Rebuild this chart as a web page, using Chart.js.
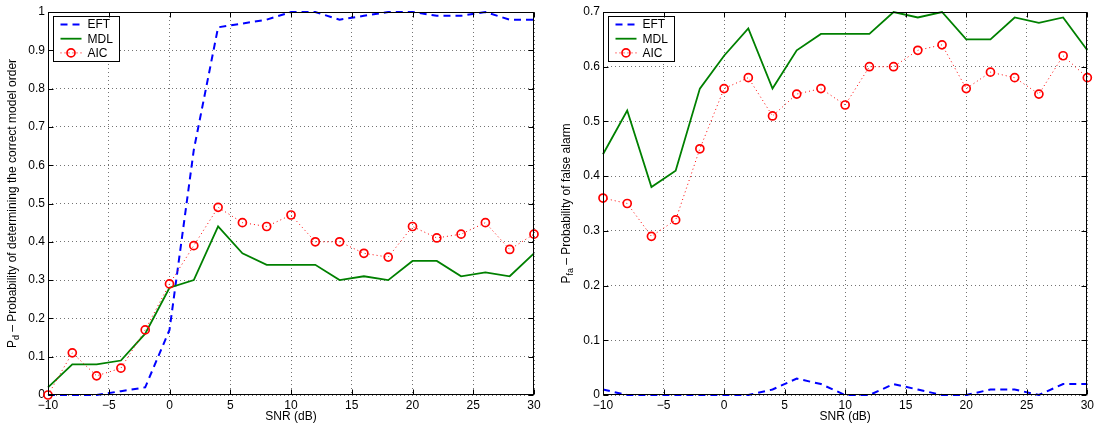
<!DOCTYPE html>
<html>
<head>
<meta charset="utf-8">
<script src="https://cdn.jsdelivr.net/npm/chart.js@4.4.0/dist/chart.umd.min.js"></script>
<style>
  html, body { margin: 0; padding: 0; background: #fff; }
  #wrap { position: relative; width: 1097px; height: 428px; }
  canvas { position: absolute; top: 0; }
</style>
</head>
<body>
<div id="wrap">
  <canvas id="pdChart" width="548" height="428" style="left:0px"></canvas>
  <canvas id="pfaChart" width="549" height="428" style="left:548px"></canvas>
</div>
<script>
// SNR values (dB)
const snr = [-10, -8, -6, -4, -2, 0, 2, 4, 6, 8, 10, 12, 14, 16, 18, 20, 22, 24, 26, 28, 30];

// Probability of detection (left plot)
const pdEft = [0, 0, 0, 0.01, 0.02, 0.17, 0.64, 0.96, 0.97, 0.98, 1.0, 1.0, 0.98, 0.99, 1.0, 1.0, 0.99, 0.99, 1.0, 0.98, 0.98];
const pdMdl = [0.02, 0.08, 0.08, 0.09, 0.16, 0.28, 0.30, 0.44, 0.37, 0.34, 0.34, 0.34, 0.30, 0.31, 0.30, 0.35, 0.35, 0.31, 0.32, 0.31, 0.37];
const pdAic = [0, 0.11, 0.05, 0.07, 0.17, 0.29, 0.39, 0.49, 0.45, 0.44, 0.47, 0.40, 0.40, 0.37, 0.36, 0.44, 0.41, 0.42, 0.45, 0.38, 0.42];

// Probability of false alarm (right plot)
const pfaEft = [0.01, 0, 0, 0, 0, 0, 0, 0.01, 0.03, 0.02, 0, 0, 0.02, 0.01, 0, 0, 0.01, 0.01, 0, 0.02, 0.02];
const pfaMdl = [0.44, 0.52, 0.38, 0.41, 0.56, 0.62, 0.67, 0.56, 0.63, 0.66, 0.66, 0.66, 0.70, 0.69, 0.70, 0.65, 0.65, 0.69, 0.68, 0.69, 0.63];
const pfaAic = [0.36, 0.35, 0.29, 0.32, 0.45, 0.56, 0.58, 0.51, 0.55, 0.56, 0.53, 0.60, 0.60, 0.63, 0.64, 0.56, 0.59, 0.58, 0.55, 0.62, 0.58];

const seriesNames = ['EFT', 'MDL', 'AIC'];

Chart.defaults.font.family = '"Liberation Sans", Arial, Helvetica, sans-serif';
Chart.defaults.font.size = 12;
Chart.defaults.color = '#000';

function pts(ys) {
  return snr.map((x, i) => ({ x: x, y: ys[i] }));
}

function makeDatasets(eft, mdl, aic) {
  return [{
    label: seriesNames[0],
    data: pts(eft),
    borderColor: '#0000ff',
    borderWidth: 2,
    borderDash: [7, 5],
    pointRadius: 0,
    clip: 3,
    order: 2
  }, {
    label: seriesNames[1],
    data: pts(mdl),
    borderColor: '#008000',
    borderWidth: 1.8,
    pointRadius: 0,
    clip: 3,
    order: 1
  }, {
    label: seriesNames[2],
    data: pts(aic),
    borderColor: '#ff0000',
    borderWidth: 1,
    borderDash: [1, 3],
    pointRadius: 4,
    pointBorderWidth: 1.7,
    pointBorderColor: '#ff0000',
    pointBackgroundColor: 'rgba(255,255,255,0)',
    clip: 6,
    order: 0
  }];
}

// axes box with inward tick marks, like matlab
const frame = {
  id: 'frame',
  afterDraw(chart) {
    const { ctx, chartArea: a, scales } = chart;
    const l = Math.round(a.left) + 0.5, r = Math.round(a.right) - 0.5;
    const t = Math.round(a.top) + 0.5, b = Math.round(a.bottom) - 0.5;
    ctx.save();
    ctx.setLineDash([]);
    ctx.strokeStyle = '#000';
    ctx.lineWidth = 1;
    ctx.strokeRect(l, t, r - l, b - t);
    ctx.beginPath();
    scales.x.ticks.forEach(tk => {
      const px = Math.round(scales.x.getPixelForValue(tk.value)) + 0.5;
      ctx.moveTo(px, b); ctx.lineTo(px, b - 5);
      ctx.moveTo(px, t); ctx.lineTo(px, t + 5);
    });
    scales.y.ticks.forEach(tk => {
      const py = Math.round(scales.y.getPixelForValue(tk.value)) + 0.5;
      ctx.moveTo(l, py); ctx.lineTo(l + 5, py);
      ctx.moveTo(r, py); ctx.lineTo(r - 5, py);
    });
    ctx.stroke();
    ctx.restore();
  }
};

// y title with a subscript
const yTitle = {
  id: 'yTitle',
  afterDraw(chart, args, opts) {
    const { ctx, chartArea: a } = chart;
    const big = '12px "Liberation Sans", Arial, sans-serif';
    const small = '9px "Liberation Sans", Arial, sans-serif';
    ctx.save();
    ctx.fillStyle = '#000';
    ctx.textBaseline = 'middle';
    ctx.textAlign = 'left';
    ctx.font = big;
    const w1 = ctx.measureText(opts.main).width;
    const w3 = ctx.measureText(opts.rest).width;
    ctx.font = small;
    const w2 = ctx.measureText(opts.sub).width;
    const total = w1 + w2 + w3;
    ctx.translate(opts.x, (a.top + a.bottom) / 2);
    ctx.rotate(-Math.PI / 2);
    let x0 = -total / 2;
    ctx.font = big;
    ctx.fillText(opts.main, x0, 0);
    x0 += w1;
    ctx.font = small;
    ctx.fillText(opts.sub, x0, 4);
    x0 += w2;
    ctx.font = big;
    ctx.fillText(opts.rest, x0, 0);
    ctx.restore();
  }
};

// legend box in the upper left corner of the axes
const boxLegend = {
  id: 'boxLegend',
  afterDatasetsDraw(chart) {
    const { ctx, chartArea: a } = chart;
    const bx = Math.round(a.left + 4.5) + 0.5, by = 16.5, bw = 66, bh = 45;
    ctx.save();
    ctx.fillStyle = '#fff';
    ctx.fillRect(bx, by, bw, bh);
    ctx.strokeStyle = '#000';
    ctx.lineWidth = 1;
    ctx.setLineDash([]);
    ctx.strokeRect(bx, by, bw, bh);
    chart.data.datasets.forEach((ds, i) => {
      const y = by + 8 + i * 14.2;
      ctx.strokeStyle = ds.borderColor;
      ctx.lineWidth = ds.borderWidth;
      ctx.setLineDash(ds.borderDash || []);
      ctx.beginPath();
      ctx.moveTo(bx + 7, y);
      ctx.lineTo(bx + 28, y);
      ctx.stroke();
      if (ds.pointRadius) {
        ctx.setLineDash([]);
        ctx.lineWidth = ds.pointBorderWidth;
        ctx.beginPath();
        ctx.arc(bx + 17.5, y, ds.pointRadius, 0, Math.PI * 2);
        ctx.stroke();
      }
      ctx.fillStyle = '#000';
      ctx.font = '12px "Liberation Sans", Arial, sans-serif';
      ctx.textBaseline = 'middle';
      ctx.fillText(ds.label, bx + 34, y + 0.5);
    });
    ctx.restore();
  }
};

const gridStyle = {
  color: 'rgba(0,0,0,0.55)',
  drawTicks: false,
  lineWidth: 1,
  borderDash: [1, 3],
  tickBorderDash: [1, 3]
};

function makeOptions(yMax, yWidth, padRight, title) {
  return {
    responsive: false,
    animation: false,
    events: [],
    layout: { padding: { left: 0, top: 12, right: padRight, bottom: 0 } },
    plugins: {
      legend: { display: false },
      tooltip: { enabled: false },
      yTitle: title
    },
    scales: {
      x: {
        type: 'linear',
        min: -10,
        max: 30,
        afterFit: s => { s.height = 33; },
        ticks: {
          stepSize: 5,
          padding: 3,
          maxRotation: 0,
          autoSkip: false,
          callback: v => (v < 0 ? '\u2212' + Math.abs(v) : String(v))
        },
        grid: gridStyle,
        border: { display: false, dash: [1, 3] },
        title: { display: true, text: 'SNR (dB)', padding: { top: 0, bottom: 4 } }
      },
      y: {
        min: 0,
        max: yMax,
        afterFit: s => { s.width = yWidth; },
        ticks: {
          stepSize: 0.1,
          padding: 3,
          autoSkip: false,
          callback: v => String(Number(v.toFixed(2)))
        },
        grid: gridStyle,
        border: { display: false, dash: [1, 3] }
      }
    }
  };
}

new Chart(document.getElementById('pdChart'), {
  type: 'line',
  data: { datasets: makeDatasets(pdEft, pdMdl, pdAic) },
  options: makeOptions(1, 48, 14, {
    x: 13, main: 'P', sub: 'd', rest: ' \u2013 Probability of determining the correct model order'
  }),
  plugins: [frame, yTitle, boxLegend]
});

new Chart(document.getElementById('pfaChart'), {
  type: 'line',
  data: { datasets: makeDatasets(pfaEft, pfaMdl, pfaAic) },
  options: makeOptions(0.7, 55, 8, {
    x: 19, main: 'P', sub: 'fa', rest: ' \u2013 Probability of false alarm'
  }),
  plugins: [frame, yTitle, boxLegend]
});
</script>
</body>
</html>
